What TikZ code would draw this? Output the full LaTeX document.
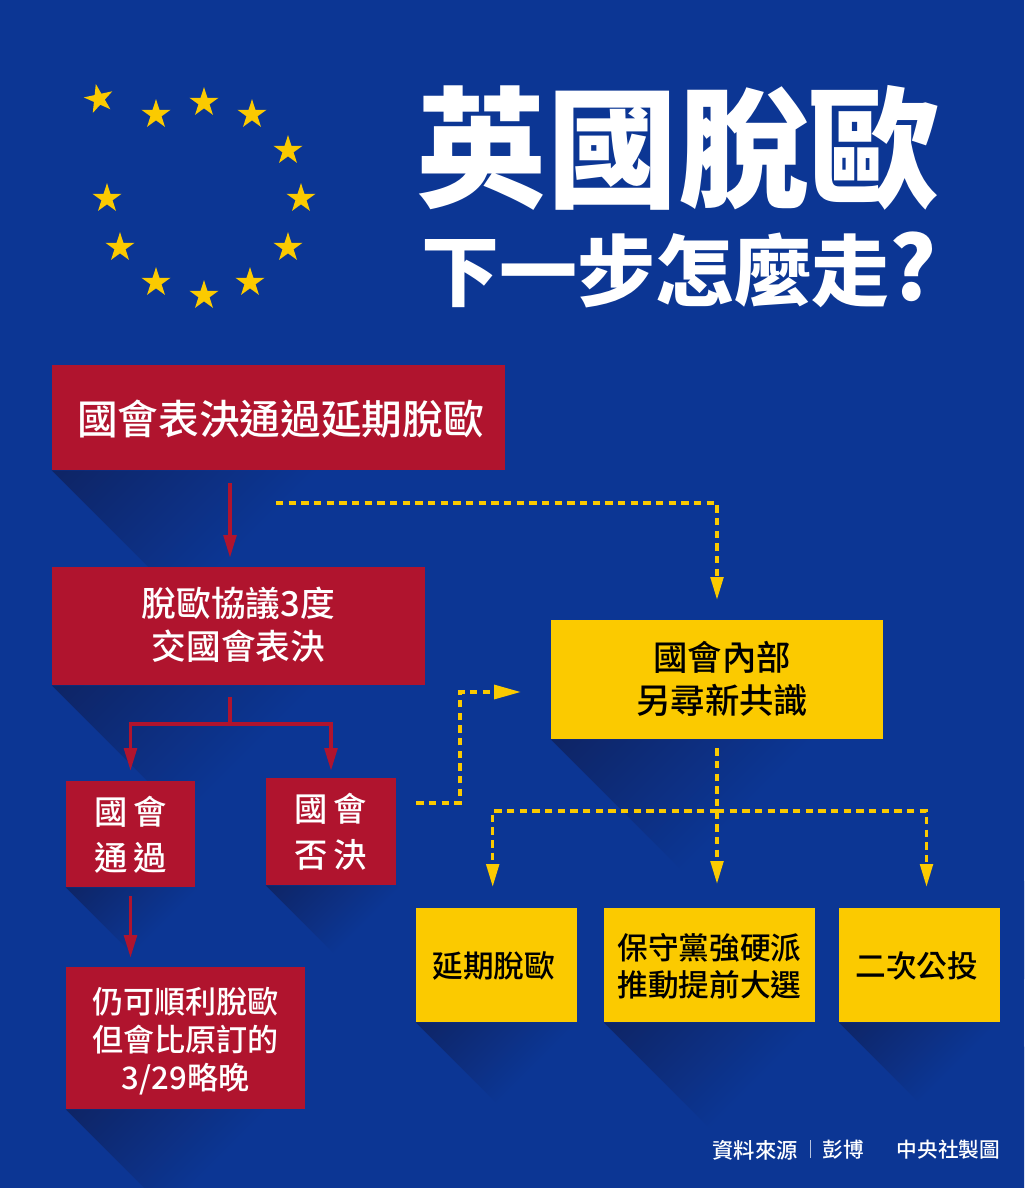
\documentclass[tikz,border=0pt]{standalone}
\usepackage{fontspec}
\newfontfamily\cjk{Noto Sans CJK TC Medium}
\newfontfamily\cjkhead{Noto Sans CJK TC Black}
\usetikzlibrary{arrows.meta,shapes.geometric,backgrounds}
\definecolor{bgblue}{RGB}{12,54,148}
\definecolor{darkblue}{RGB}{14,36,100}
\definecolor{boxred}{RGB}{176,20,46}
\definecolor{boxyellow}{RGB}{251,202,0}
\pgfdeclarehorizontalshading{shadowshade}{100bp}{color(0bp)=(darkblue); color(14bp)=(darkblue); color(39bp)=(bgblue); color(100bp)=(bgblue)}
\tikzstyle{redblock} = [rectangle, fill=boxred, text=white, inner sep=0pt, align=center]
\tikzstyle{yellowblock} = [rectangle, fill=boxyellow, text=black, inner sep=0pt, align=center]
\tikzstyle{eustar} = [star, star points=5, star point ratio=2.618, fill=boxyellow, inner sep=0pt, minimum size=23pt]
\tikzstyle{redline} = [draw=boxred, line width=2.6pt, -{Triangle[length=17pt,width=9.5pt]}]
\tikzstyle{yellowline} = [draw=boxyellow, line width=2.3pt, dash pattern=on 5.6pt off 3.9pt, -{Triangle[length=17pt,width=9.5pt]}]

\begin{document}
\begin{tikzpicture}[x=0.75pt, y=-0.75pt]
        \tikzset{every node/.append style={text depth=0pt}}
        \useasboundingbox (0,0) rectangle (1024,1188);
        % Stars
        \foreach \i/\px/\py/\rot in {1/99/99/12, 2/156/114.5/0, 3/204/102.5/0, 4/252/114.5/0, 5/288/150.5/0, 6/301/198.5/0, 7/288/247.5/0, 8/250/282.5/0, 9/204/295.5/0, 10/156/282.5/0, 11/120/247.5/0, 12/107/198.5/0}
            \node (s\i) at (\px,\py) [eustar, rotate=\rot] {};
        % Title
        \node (t1) at (678,141) [text=white, font=\cjkhead\fontsize{98}{98}\selectfont] {英國脫歐};
        \node (t2) at (679,266) [text=white, font=\cjkhead\fontsize{58.5}{58.5}\selectfont] {下一步怎麼走\fontsize{66}{66}\selectfont ?};
        % Red boxes
        \node (n1) at (278.5,417.5) [redblock, minimum width=339.75pt, minimum height=78.75pt, font=\cjk\fontsize{30.5}{30.5}\selectfont] {\hspace*{3pt}國會表決通過延期脫歐};
        \node (n2) at (238.5,626) [redblock, minimum width=279.75pt, minimum height=88.5pt, text depth=4pt, font=\cjk\fontsize{26}{32.3}\selectfont] {脫歐協議3度\\交國會表決};
        \node (n3) at (130.5,834) [redblock, minimum width=96.75pt, minimum height=79.5pt, text depth=1pt, font=\cjk\fontsize{25}{34.5}\selectfont] {國\,會\\通\,過};
        \node (n4) at (331,831.5) [redblock, minimum width=97.5pt, minimum height=80.25pt, text depth=2pt, font=\cjk\fontsize{25}{34}\selectfont] {國\,會\\否\,決};
        \node (n5) at (185.5,1038) [redblock, minimum width=179.25pt, minimum height=106.5pt, font=\cjk\fontsize{23.3}{28.5}\selectfont] {仍可順利脫歐\\但會比原訂的\\3/29略晚};
        % Yellow boxes
        \node (n6) at (717,679.5) [yellowblock, minimum width=249pt, minimum height=89.25pt, text depth=3.5pt, font=\cjk\fontsize{25.8}{32.3}\selectfont] {\hspace*{8pt}國會內部\\\hspace*{8pt}另尋新共識};
        \node (n7) at (496.5,965) [yellowblock, minimum width=120.75pt, minimum height=85.5pt, font=\cjk\fontsize{23}{28}\selectfont] {延期脫歐\hspace*{4pt}};
        \node (n8) at (709.5,965) [yellowblock, minimum width=158.25pt, minimum height=85.5pt, font=\cjk\fontsize{23}{28}\selectfont] {保守黨強硬派\\推動提前大選};
        \node (n9) at (919.5,965) [yellowblock, minimum width=120.75pt, minimum height=85.5pt, font=\cjk\fontsize{23}{28}\selectfont] {二次公投\hspace*{4pt}};
        % Footer
        \node (f1) at (755,1149) [text=white, font=\cjk\fontsize{16}{16}\selectfont] {資料來源};
        \node (f2) at (843,1149) [text=white, font=\cjk\fontsize{15.5}{16}\selectfont] {彭博};
        \node (f3) at (948.5,1149) [text=white, font=\cjk\fontsize{15.5}{16}\selectfont] {中央社製圖};
        \coordinate (f0) at (810,1140);
        \draw[white!70!bgblue, line width=0.6pt] (f0) -- ++(0,18);
        % Shadows
        \begin{scope}[on background layer]
            \clip (0,0) rectangle (1024,1188);
            \fill[bgblue] (0,0) rectangle (1024,1188);
            \foreach \n/\w/\h in {n1/380/135, n2/380/135, n3/160/100, n4/170/95, n5/260/135, n6/340/170, n7/200/115, n8/270/140, n9/200/110} {
                \begin{scope}
                    \clip (\n.south west) -- (\n.south east) -- ++(240,240) -- ([shift={(240,240)}]\n.south west) -- cycle;
                    \shade[shading=shadowshade, shading angle=-45] (\n.south west) rectangle ++({1.5*\w},{1.5*\h});
                \end{scope}
            }
        \end{scope}
        % Red arrows
        \coordinate (c1) at (230,724);
        \draw[redline, shorten <=9.75pt, shorten >=6.75pt] (n1.south -| c1) -- (n2.north -| c1);
        \draw[boxred, line width=2.6pt, shorten <=9pt] (n2.south -| c1) -- (c1);
        \draw[redline, shorten >=7.5pt] (c1) -| (n3.north);
        \draw[redline, shorten >=5.25pt] (c1) -| (n4.north);
        \draw[redline, shorten <=6.75pt, shorten >=6.75pt] (n3.south) -- (n3.south |- n5.north);
        % Yellow arrows
        \coordinate (d1) at (276,503);
        \coordinate (d2) at (460,803);
        \coordinate (d3) at (460,692);
        \coordinate (j1) at (717,811);
        \coordinate (b1) at (492.7,811);
        \coordinate (b2) at (926.5,811);
        \draw[yellowline, shorten >=15pt] (d1) -| (n6.north);
        \draw[yellowline, -{Triangle[length=20pt,width=10.5pt]}, shorten <=15pt, shorten >=22.5pt] (n4.east |- d2) -- (d2) -- (d3) -- (n6.west |- d3);
        \draw[yellowline, shorten <=6.75pt, shorten >=18pt] (n6.south) -- (n6.south |- n8.north);
        \draw[yellowline, shorten >=15.75pt] (j1) -- (b1) -- (b1 |- n7.north);
        \draw[yellowline, shorten >=15.75pt] (j1) -- (b2) -- (b2 |- n9.north);
\end{tikzpicture}
\end{document}
